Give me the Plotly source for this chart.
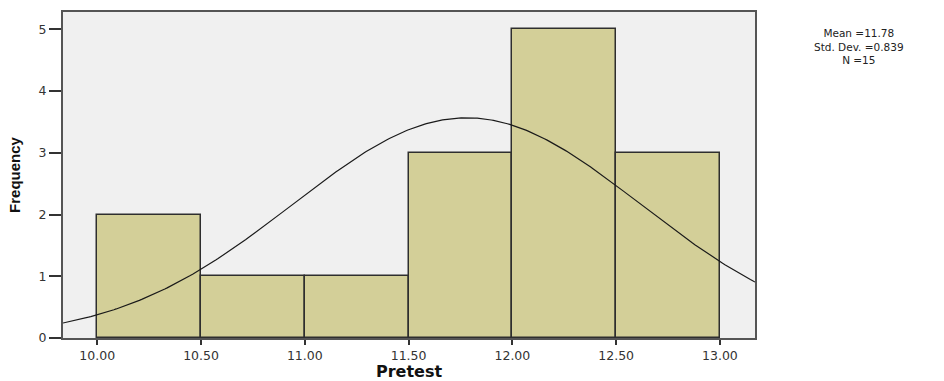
import numpy as np
import plotly.graph_objects as go

bin_centers = [10.25, 10.75, 11.25, 11.75, 12.25, 12.75]
counts = [2, 1, 1, 3, 5, 3]
bin_width = 0.5
mean = 11.78
std = 0.839
n = 15
x_ticks = [10.0, 10.5, 11.0, 11.5, 12.0, 12.5, 13.0]
x_tick_labels = ["10.00", "10.50", "11.00", "11.50", "12.00", "12.50", "13.00"]
y_ticks = [0, 1, 2, 3, 4, 5]
stats_lines = ["Mean =11.78", "Std. Dev. =0.839", "N =15"]

x_range = [9.835, 13.169]
y_range = [0, 5.28]

xs = np.linspace(x_range[0], x_range[1], 300)
ys = n * bin_width / (std * np.sqrt(2 * np.pi)) * np.exp(-0.5 * ((xs - mean) / std) ** 2)

fig = go.Figure()
fig.add_trace(go.Bar(
    x=bin_centers, y=counts, width=bin_width,
    marker=dict(color="#d3cf98", line=dict(color="#2e2e2e", width=1.5)),
    hoverinfo="skip",
))
fig.add_trace(go.Scatter(
    x=xs, y=ys, mode="lines", line=dict(color="#1a1a1a", width=1.2),
    hoverinfo="skip", cliponaxis=False,
))

fig.update_layout(
    width=944, height=381,
    margin=dict(l=63, r=189, t=12, b=43, autoexpand=False),
    paper_bgcolor="white", plot_bgcolor="#f0f0f0",
    showlegend=False,
    font=dict(family="DejaVu Sans, Liberation Sans, sans-serif", color="#222", size=12),
    bargap=0,
)
fig.update_xaxes(
    range=x_range, tickvals=x_ticks, ticktext=x_tick_labels,
    showgrid=False, zeroline=False, automargin=False,
    showline=True, linecolor="#555", linewidth=2, mirror=True,
    ticks="outside", ticklen=5, tickcolor="#333", tickwidth=1.5,
    tickfont=dict(size=12.5, color="#333"),
    title=dict(text="<b>Pretest</b>", font=dict(size=16, color="#111"), standoff=4),
)
fig.update_yaxes(
    range=y_range, tickvals=y_ticks,
    showgrid=False, zeroline=False, automargin=False,
    showline=True, linecolor="#555", linewidth=2, mirror=True,
    ticks="outside", ticklen=12, tickcolor="#333", tickwidth=1.5,
    tickfont=dict(size=12.5, color="#333"),
    title=dict(text="<b>Frequency</b>", font=dict(family="Liberation Sans Narrow, Arial Narrow, Liberation Sans, sans-serif", size=15, color="#111"), standoff=14),
)

fig.add_annotation(
    xref="paper", yref="paper", x=(859 - 63) / 692, y=1.0, xanchor="center", yanchor="middle",
    yshift=-(46 - 12),
    text="<br>".join(stats_lines), showarrow=False, align="center", borderpad=0,
    font=dict(size=10.5, color="#222"),
)

fig.write_html("out.html", config={"displayModeBar": False},
               post_script="document.body.style.margin='0';document.body.style.overflow='hidden';")
